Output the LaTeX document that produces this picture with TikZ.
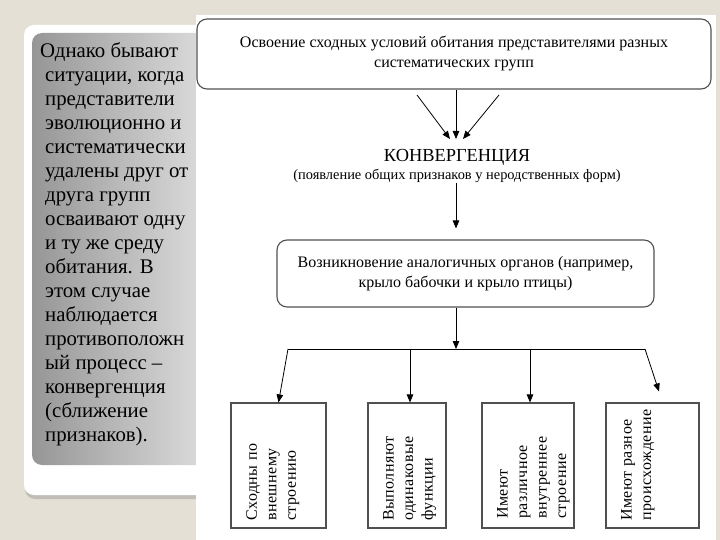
\documentclass[tikz,border=0pt]{standalone}
\usepackage{fontspec}
\setmainfont{Liberation Serif}
\newfontfamily\spacedserif[LetterSpace=3]{Liberation Serif}
\usetikzlibrary{arrows.meta}
\usetikzlibrary{shadows}
\usetikzlibrary{shadings}
\definecolor{beige}{RGB}{229,224,214}
\definecolor{paneldark}{RGB}{150,150,150}
\definecolor{panellight}{RGB}{230,230,230}
\definecolor{boxline}{RGB}{80,80,80}

\begin{document}
\begin{tikzpicture}
        [x=1pt, y=-1pt,
        roundbox/.style = {draw=boxline, line width=1.1pt, rounded corners=10pt, align=center, font=\fontsize{16}{20}\selectfont, inner sep=0pt},
        featbox/.style = {draw=boxline, line width=1.1pt, inner sep=0pt},
        featlabel/.style = {rotate=90, anchor=north west, align=left, inner sep=0pt, font=\spacedserif\fontsize{16}{19.5}\selectfont},
        lines/.style = {line width=0.8pt, -{Triangle[length=8pt, width=6.5pt]}}]
        \useasboundingbox (0,0) rectangle (720,540);
        \fill[beige] (0,0) rectangle (720,540);

        % left card with the grey panel
        \fill[white, rounded corners=10pt, drop shadow={shadow xshift=1pt, shadow yshift=-4pt, opacity=0.35}] (24,25) rectangle (230,495);
        \shade[rounded corners=10pt, left color=paneldark, right color=panellight] (32,33) rectangle (230,465);
        \node[anchor=north west, align=left, inner sep=0pt, font=\fontsize{20.8}{24}\selectfont] (intro) at (45,42)
            {\hspace*{-5pt}Однако бывают\\ситуации, когда\\представители\\эволюционно и\\систематически\\удалены друг от\\друга групп\\осваивают одну\\и ту же среду\\обитания. В\\этом случае\\наблюдается\\противоположн\\ый процесс –\\конвергенция\\(сближение\\признаков).};

        % the scheme
        \fill[white] (196,15) rectangle (716,540);

        \node[roundbox, minimum width=514pt, minimum height=70pt] (habitat) at (454,54)
            {Освоение сходных условий обитания представителями разных\\систематических групп};
        \node[inner sep=0pt, font=\fontsize{18.4}{20}\selectfont] (conv) at (457,157) {КОНВЕРГЕНЦИЯ};
        \node[inner sep=0pt, font=\fontsize{14.4}{18}\selectfont] (convnote) at (457,176) {(появление общих признаков у неродственных форм)};

        \coordinate (meet) at (456,139);
        \coordinate (dl) at (417,95);
        \coordinate (dr) at (499,95);
        \draw[lines] (dl) -- ([xshift=-6pt]meet);
        \draw[lines] (habitat.south -| meet) -- (meet);
        \draw[lines] (dr) -- ([xshift=7pt]meet);

        \node[roundbox, minimum width=377pt, minimum height=67pt] (analog) at (465.5,273.5)
            {Возникновение аналогичных органов (например,\\крыло бабочки и крыло птицы)};
        \draw[lines, shorten >=11pt] (convnote.south -| meet) -- (analog.north -| meet);

        \coordinate (fork) at (456,349);
        \coordinate (forkl) at (288,349);
        \coordinate (forkr) at (645,349);
        \draw[lines] (analog.south -| fork) -- (fork);
        \draw[line width=0.8pt] (forkl) -- (forkr);

        \node[featbox, minimum width=95pt, minimum height=125pt] (s1) at (278.5,465.5) {};
        \node[featbox, minimum width=78pt, minimum height=125pt] (s2) at (407,465.5) {};
        \node[featbox, minimum width=92pt, minimum height=125pt] (s3) at (528,465.5) {};
        \node[featbox, minimum width=93pt, minimum height=125pt] (s4) at (652.5,465.5) {};

        \node[featlabel] (t1) at (246,521) {Сходны по\\внешнему\\строению};
        \node[featlabel] (t2) at (383,521) {Выполняют\\одинаковые\\функции};
        \node[featlabel] (t3) at (497,519) {Имеют\\различное\\внутреннее\\строение};
        \node[featlabel] (t4) at (621,521) {Имеют разное\\происхождение};

        \coordinate (b2) at (410,349);
        \coordinate (b3) at (530,349);
        \draw[lines] (forkl) -- (s1.north);
        \draw[lines] (b2) -- (b2 |- s2.north);
        \draw[lines] (b3) -- (b3 |- s3.north);
        \draw[lines] (forkr) -- ([xshift=6.5pt,yshift=11pt]s4.north);

    \end{tikzpicture}
\end{document}
